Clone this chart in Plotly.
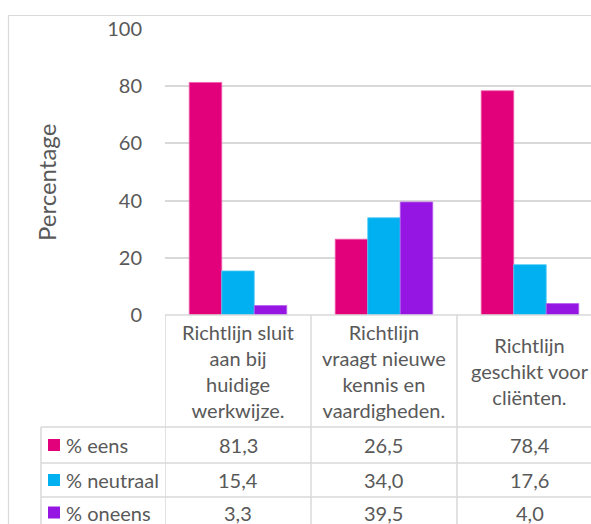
import plotly.graph_objects as go

categories = ["Richtlijn sluit<br>aan bij<br>huidige<br>werkwijze.",
              "Richtlijn<br>vraagt nieuwe<br>kennis en<br>vaardigheden.",
              "Richtlijn<br>geschikt voor<br>cliënten."]
series_names = ["% eens", "% neutraal", "% oneens"]
eens = [81.3, 26.5, 78.4]
neutraal = [15.4, 34.0, 17.6]
oneens = [3.3, 39.5, 4.0]
y_ticks = [0, 20, 40, 60, 80, 100]

colors = ["#E3007B", "#00B0F0", "#9516E2"]
edge = ["#F05AAA", "#4FCBF5", "#B860EE"]
FONT = "Lato"
TXT = "#595959"
GRID = "#D9D9D9"

W, H = 591, 524
L, R_PIX, T, B_PIX = 165, 591, 29, 315


def px(x):
    return (x - L) / (R_PIX - L)


def py(y):
    return (B_PIX - y) / (B_PIX - T)


xs = [0, 1, 2]
values = [eens, neutraal, oneens]

fig = go.Figure()
for name, vals, c, e in zip(series_names, values, colors, edge):
    fig.add_trace(go.Bar(x=xs, y=vals, name=name, marker=dict(color=c, line=dict(color=e, width=0.8)),
                         showlegend=False))

shapes = []
annotations = []
line_style = dict(color=GRID, width=1.5)

# outer chart border
shapes.append(dict(type="rect", xref="paper", yref="paper", x0=px(8.5), x1=px(640), y0=py(15.5), y1=py(560),
                   line=dict(color=GRID, width=1.2), layer="below"))

# table rows
row_lines = [427, 463, 497, 531]
for yl in row_lines:
    shapes.append(dict(type="line", xref="paper", yref="paper", x0=px(41), x1=px(640), y0=py(yl), y1=py(yl),
                       line=line_style))
shapes.append(dict(type="line", xref="paper", yref="paper", x0=px(165), x1=px(640), y0=0, y1=0, line=line_style))
# vertical lines: category boundaries
for i in range(len(categories) + 1):
    shapes.append(dict(type="line", xref="x", yref="paper", x0=i - 0.5, x1=i - 0.5, y0=0, y1=py(560),
                       line=line_style))
shapes.append(dict(type="line", xref="paper", yref="paper", x0=px(41), x1=px(41), y0=py(427), y1=py(560),
                   line=line_style))

# header texts
for i, cat in enumerate(categories):
    annotations.append(dict(x=i, y=py(371), xref="x", yref="paper", text=cat, showarrow=False,
                            xanchor="center", yanchor="middle", align="center",
                            font=dict(family=FONT, size=20, color=TXT)))

row_centers = [445, 480, 512.5]
for r, (name, vals, c) in enumerate(zip(series_names, values, colors)):
    yc = row_centers[r]
    shapes.append(dict(type="rect", xref="paper", yref="paper", x0=px(48), x1=px(60), y0=py(yc - 6), y1=py(yc + 6),
                       fillcolor=c, line=dict(width=0)))
    annotations.append(dict(x=px(64), y=py(yc), xref="paper", yref="paper", text=name, showarrow=False,
                            xanchor="left", yanchor="middle", font=dict(family=FONT, size=20, color=TXT)))
    for i, v in enumerate(vals):
        annotations.append(dict(x=i, y=py(yc), xref="x", yref="paper", text=f"{v:.1f}".replace(".", ","),
                                showarrow=False, xanchor="center", yanchor="middle",
                                font=dict(family=FONT, size=20, color=TXT)))

# y axis title
annotations.append(dict(x=px(46), y=py(183), xref="paper", yref="paper", text="Percentage", textangle=-90,
                        showarrow=False, xanchor="center", yanchor="middle",
                        font=dict(family=FONT, size=24, color=TXT)))

fig.update_layout(
    width=W, height=H,
    margin=dict(l=L, r=W - R_PIX, t=T, b=H - B_PIX, pad=0),
    paper_bgcolor="white", plot_bgcolor="white",
    barmode="group", bargap=0.332, bargroupgap=0,
    shapes=shapes, annotations=annotations,
    xaxis=dict(range=[-0.5, 2.418], showticklabels=False, showgrid=False, zeroline=False, showline=False,
               ticks=""),
    yaxis=dict(range=[0, 100], tickvals=y_ticks, showgrid=True, gridcolor=GRID, gridwidth=1.5,
               zeroline=False, showline=False, ticks="", ticklabelstandoff=22,
               tickfont=dict(family=FONT, size=20, color=TXT)),
)

fig.write_html("out.html")
